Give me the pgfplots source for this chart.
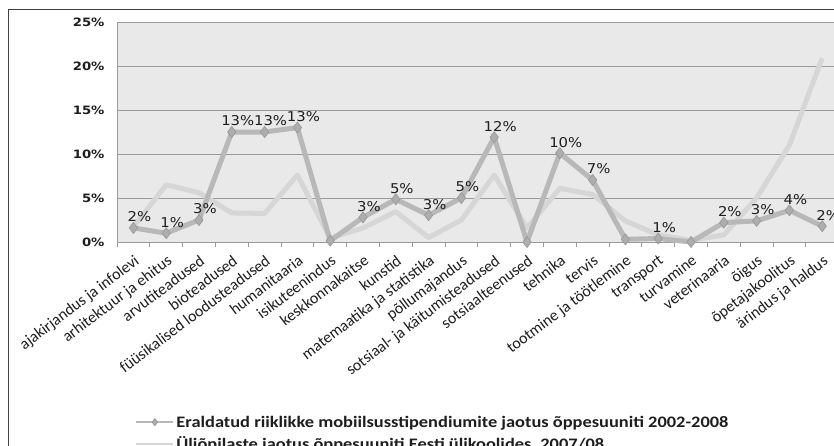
\documentclass[border=0pt]{standalone}
\usepackage{fontspec}
\usepackage{pgfplots}
\pgfplotsset{compat=1.18}
\setmainfont{Carlito}
\newfontfamily\tickfont[FakeStretch=1.15]{DejaVu Sans}
\newfontfamily\labfont[FakeStretch=1.1]{DejaVu Sans}
\newfontfamily\calfont{Carlito}
\newfontfamily\legfont[FakeStretch=1.15]{Carlito}
\definecolor{bgc}{HTML}{E9E9E9}
\definecolor{gridc}{HTML}{9A9A9A}
\definecolor{darkline}{HTML}{B8B8B8}
\definecolor{diamf}{HTML}{AEAEAE}
\definecolor{diame}{HTML}{9C9C9C}
\definecolor{lightline}{HTML}{D6D6D6}
\definecolor{txt}{HTML}{1E1E1E}
\begin{document}
\begin{tikzpicture}
\useasboundingbox (0,0) rectangle (834pt,-446pt);
\fill[white] (0,0) rectangle (834pt,-446pt);
\draw[black!75, line width=1pt] (8pt,-10pt) rectangle (900pt,-520pt);
\begin{axis}[
  at={(117pt,-242pt)}, anchor=south west,
  scale only axis, width=721.6pt, height=220pt,
  xmin=-0.5, xmax=21.5, ymin=0, ymax=25,
  clip=false,
  axis background/.style={fill=bgc},
  axis line style={gridc, line width=0.8pt},
  ymajorgrids, grid style={gridc, line width=0.8pt},
  ytick={0,5,10,15,20,25},
  /pgf/number format/assume math mode=true,
  yticklabel={\pgfmathprintnumber{\tick}\%},
  yticklabel style={font=\tickfont\bfseries\fontsize{11.5}{12}\selectfont, text=txt, xshift=-9pt},
  ytick style={draw=none},
  xtick={0,...,21},
  minor xtick={-0.5,0.5,...,21.5},
  major tick length=0pt, minor tick length=5pt,
  xtick align=outside, xtick pos=bottom,
  minor tick style={gridc, line width=0.8pt},
  xticklabels={ajakirjandus ja infolevi, arhitektuur ja ehitus, arvutiteadused, bioteadused, füüsikalised loodusteadused, humanitaaria, isikuteenindus, keskkonnakaitse, kunstid, matemaatika ja statistika, põllumajandus, sotsiaal- ja käitumisteadused, sotsiaalteenused, tehnika, tervis, tootmine ja töötlemine, transport, turvamine, veterinaaria, õigus, õpetajakoolitus, ärindus ja haldus},
  xticklabel style={font=\fontsize{16}{17}\calfont, text=txt, xshift=0pt, yshift=-12pt, rotate=37, anchor=north east, inner sep=0pt},
  reverse legend,
  legend style={at={(0.025,-0.78)}, anchor=north west, draw=none, fill=none,
    font=\legfont\bfseries\fontsize{16}{17}\selectfont, text=txt, row sep=4pt, inner sep=0pt},
  legend cell align=left,
  legend image code/.code={\draw[mark repeat=2,mark phase=2,#1,line width=2.2pt,mark size=3.6pt] plot coordinates {(0pt,0pt) (18.5pt,0pt) (37pt,0pt)};},
]
\addplot[lightline, line width=5pt, line join=round] coordinates {
(0,1.7) (1,6.5) (2,5.6) (3,3.3) (4,3.25) (5,7.6) (6,0.45) (7,1.6) (8,3.45) (9,0.5) (10,2.5)
(11,7.6) (12,1.6) (13,6.1) (14,5.4) (15,2.4) (16,0.8) (17,0.2) (18,0.8) (19,5.0) (20,11.0) (21,20.9)
};
\addlegendentry{Üliõpilaste jaotus õppesuuniti Eesti ülikoolides, 2007/08}
\addplot[darkline, line width=5pt, line join=round,
  mark=diamond*, mark size=5.5pt, mark options={fill=diamf, draw=diame, line width=0.8pt},
  point meta=explicit symbolic,
  nodes near coords,
  nodes near coords style={font=\labfont\fontsize{13.5}{14}\selectfont, text=txt, anchor=center, xshift=6pt, yshift=11pt},
] coordinates {
(0,1.6) [2\%]
(1,1.0) [1\%]
(2,2.5) [3\%]
(3,12.5) [13\%]
(4,12.5) [13\%]
(5,13.0) [13\%]
(6,0.15) [{}]
(7,2.8) [3\%]
(8,4.85) [5\%]
(9,3.05) [3\%]
(10,5.0) [5\%]
(11,11.9) [12\%]
(12,0.0) [{}]
(13,10.1) [10\%]
(14,7.05) [7\%]
(15,0.3) [{}]
(16,0.4) [1\%]
(17,0.0) [{}]
(18,2.2) [2\%]
(19,2.4) [3\%]
(20,3.6) [4\%]
(21,1.8) [2\%]
};
\addlegendentry{Eraldatud riiklikke mobiilsusstipendiumite jaotus õppesuuniti 2002-2008}
\end{axis}
\end{tikzpicture}
\end{document}
